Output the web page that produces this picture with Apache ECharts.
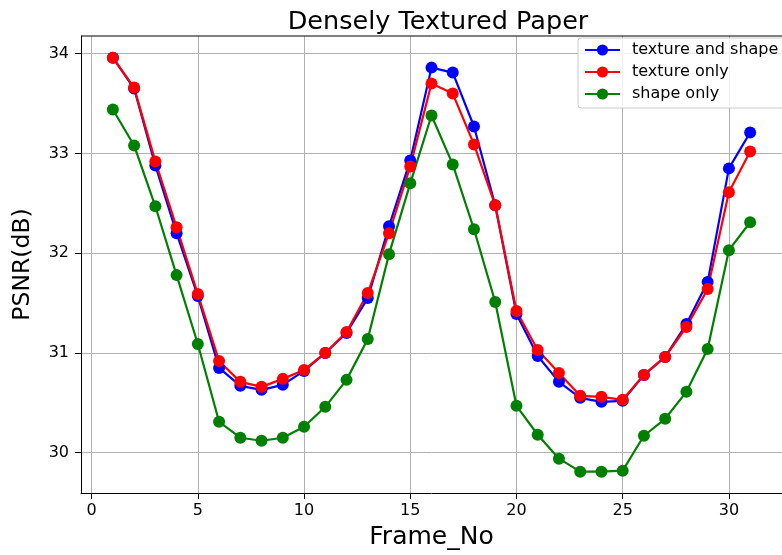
<!DOCTYPE html>
<html>
<head>
<meta charset="utf-8">
<title>Densely Textured Paper</title>
<script src="https://cdn.jsdelivr.net/npm/echarts@6/dist/echarts.min.js"></script>
<style>
  html, body { margin: 0; padding: 0; background: #ffffff; }
  #chart { width: 782px; height: 555px; }
</style>
</head>
<body>
<div id="chart"></div>
<script>
// Frame numbers along the x axis
const frames = [1, 2, 3, 4, 5, 6, 7, 8, 9, 10, 11, 12, 13, 14, 15, 16,
                17, 18, 19, 20, 21, 22, 23, 24, 25, 26, 27, 28, 29, 30, 31];

// PSNR (dB) per frame for each configuration
const textureAndShape = [33.96, 33.65, 32.88, 32.20, 31.57, 30.85, 30.67, 30.63, 30.68, 30.82,
                         31.00, 31.20, 31.55, 32.27, 32.93, 33.86, 33.81, 33.27, 32.48, 31.39,
                         30.97, 30.71, 30.55, 30.51, 30.52, 30.78, 30.96, 31.29, 31.71, 32.85, 33.21];
const textureOnly     = [33.96, 33.66, 32.92, 32.26, 31.59, 30.92, 30.71, 30.66, 30.74, 30.83,
                         31.00, 31.21, 31.60, 32.20, 32.87, 33.70, 33.60, 33.09, 32.48, 31.42,
                         31.03, 30.80, 30.57, 30.56, 30.53, 30.78, 30.96, 31.26, 31.64, 32.61, 33.02];
const shapeOnly       = [33.44, 33.08, 32.47, 31.78, 31.09, 30.31, 30.15, 30.12, 30.15, 30.26,
                         30.46, 30.73, 31.14, 31.99, 32.70, 33.38, 32.89, 32.24, 31.51, 30.47,
                         30.18, 29.94, 29.81, 29.81, 29.82, 30.17, 30.34, 30.61, 31.04, 32.03, 32.31];

// Tick labels
const xTicks = [0, 5, 10, 15, 20, 25, 30];
const yTicks = [30, 31, 32, 33, 34];

const seriesNames = ['texture and shape', 'texture only', 'shape only'];
const seriesColors = ['#0000ff', '#ff0000', '#008000'];
const seriesValues = [textureAndShape, textureOnly, shapeOnly];

const FONT = 'DejaVu Sans';

const chart = echarts.init(document.getElementById('chart'), null, { renderer: 'canvas' });

const series = seriesNames.map((name, i) => ({
  name: name,
  type: 'line',
  data: frames.map((f, j) => [f, seriesValues[i][j]]),
  symbol: 'circle',
  symbolSize: 12,
  showSymbol: true,
  color: seriesColors[i],
  lineStyle: { width: 2.2, color: seriesColors[i] },
  itemStyle: { color: seriesColors[i] },
  emphasis: { disabled: true },
  animation: false
}));

chart.setOption({
  animation: false,
  backgroundColor: '#ffffff',
  title: {
    text: 'Densely Textured Paper',
    left: 433,
    top: 4,
    textAlign: 'center',
    textStyle: { fontFamily: FONT, fontSize: 25.5, fontWeight: 'normal', color: '#000000' }
  },
  legend: {
    orient: 'vertical',
    left: 578,
    top: 38,
    data: seriesNames,
    itemWidth: 35,
    itemHeight: 14,
    itemGap: 6,
    padding: [4, 12, 6, 6],
    backgroundColor: 'rgba(255,255,255,0.85)',
    borderColor: '#cccccc',
    borderWidth: 1,
    borderRadius: 3,
    textStyle: {
      fontFamily: FONT, fontSize: 16, color: '#000000',
      lineHeight: 16, padding: [0, 0, 0, 7]
    }
  },
  grid: {
    left: 81,
    top: 36,
    width: 704,
    height: 458,
    show: true,
    borderWidth: 0
  },
  xAxis: {
    type: 'value',
    min: -0.5,
    max: 32.5,
    name: 'Frame_No',
    nameLocation: 'middle',
    nameGap: 32,
    nameTextStyle: { fontFamily: FONT, fontSize: 25, color: '#000000' },
    axisLine: { show: true, onZero: false, lineStyle: { color: '#000000', width: 1 } },
    axisTick: { show: true, length: 6, lineStyle: { color: '#000000' }, customValues: xTicks },
    axisLabel: { fontFamily: FONT, fontSize: 16, color: '#000000', margin: 10, customValues: xTicks },
    splitLine: { show: true, lineStyle: { color: '#b0b0b0', width: 1 } }
  },
  yAxis: {
    type: 'value',
    min: 29.596,
    max: 34.177,
    name: 'PSNR(dB)',
    nameLocation: 'middle',
    nameGap: 46,
    nameRotate: 90,
    nameTextStyle: { fontFamily: FONT, fontSize: 23.5, color: '#000000' },
    axisLine: { show: true, onZero: false, lineStyle: { color: '#000000', width: 1 } },
    axisTick: { show: true, length: 6, lineStyle: { color: '#000000' }, customValues: yTicks },
    axisLabel: { fontFamily: FONT, fontSize: 16, color: '#000000', margin: 12, customValues: yTicks },
    splitLine: { show: true, lineStyle: { color: '#b0b0b0', width: 1 } }
  },
  series: series
});

// top spine along the plot area's upper edge
const topY = chart.convertToPixel({ yAxisIndex: 0 }, 34.177);
const leftX = chart.convertToPixel({ xAxisIndex: 0 }, -0.5);
const rightX = chart.convertToPixel({ xAxisIndex: 0 }, 32.5);
chart.setOption({
  graphic: [{
    type: 'line',
    shape: { x1: leftX, y1: topY, x2: rightX, y2: topY },
    style: { stroke: '#000000', lineWidth: 1 },
    z: 1,
    silent: true
  }]
});
</script>
</body>
</html>
